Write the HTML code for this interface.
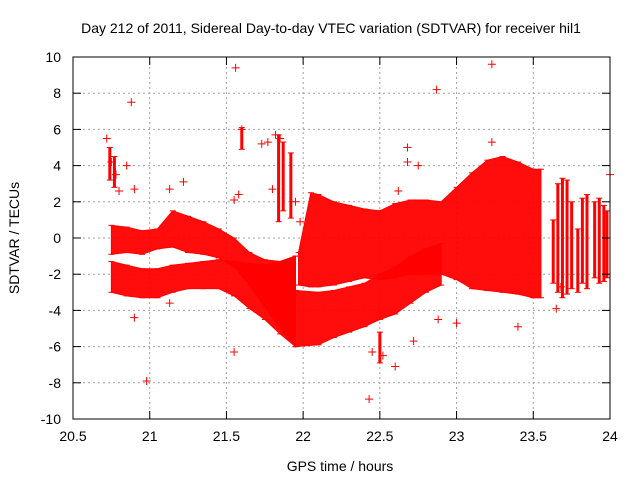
<!DOCTYPE html>
<html><head><meta charset="utf-8"><style>
body{margin:0;background:#fff;}
svg{display:block;font-family:"Liberation Sans",sans-serif;}
</style></head><body>
<svg id="chart" width="640" height="480" viewBox="0 0 640 480" xmlns="http://www.w3.org/2000/svg">
<rect width="640" height="480" fill="#fff"/>
<g id="grid"></g>
<g id="data"></g>
<g id="axes"></g>
<text x="331" y="33" font-size="14" text-anchor="middle">Day 212 of 2011, Sidereal Day-to-day VTEC variation (SDTVAR) for receiver hil1</text>
<text x="340" y="471" font-size="14" text-anchor="middle">GPS time / hours</text>
<text transform="translate(19,238) rotate(-90)" font-size="14" text-anchor="middle">SDTVAR / TECUs</text>
</svg>
<script>
const xTicks=[20.5,21,21.5,22,22.5,23,23.5,24];
const xTickLabels=["20.5","21","21.5","22","22.5","23","23.5","24"];
const yTicks=[-10,-8,-6,-4,-2,0,2,4,6,8,10];
const yTickLabels=["-10","-8","-6","-4","-2","0","2","4","6","8","10"];
// band upper-left
const bandUx=[20.75,20.85,20.95,21.05,21.15,21.25,21.35,21.45,21.55,21.65,21.75,21.85,21.95];
const bandUtop=[0.7,0.6,0.4,0.5,1.5,1.2,0.9,0.5,0.0,-0.8,-1.2,-1.3,-1.0];
const bandUbot=[-0.9,-0.8,-0.9,-0.6,-0.5,-0.8,-0.9,-1.1,-1.6,-2.6,-3.8,-5.0,-6.0];
// band lower-left
const bandLx=[20.75,20.85,20.95,21.05,21.15,21.25,21.35,21.45,21.55,21.65,21.75,21.85,21.95];
const bandLtop=[-1.3,-1.5,-1.7,-1.7,-1.5,-1.4,-1.3,-1.2,-1.3,-1.4,-1.5,-1.3,-1.0];
const bandLbot=[-3.0,-3.2,-3.3,-3.3,-3.0,-2.8,-2.8,-2.8,-3.2,-3.9,-4.5,-5.3,-6.0];
// band right main
const bandRx=[21.97,22.05,22.1,22.2,22.3,22.4,22.5,22.6,22.7,22.8,22.9,23.0,23.1,23.2,23.3,23.4,23.5,23.55];
const bandRtop=[-0.8,2.5,2.4,2.0,1.8,1.6,1.5,1.9,2.1,2.1,2.0,2.8,3.6,4.3,4.5,4.2,3.8,3.8];
const bandRbot=[-2.6,-2.7,-2.7,-2.6,-2.4,-2.2,-2.3,-2.2,-2.0,-2.0,-2.0,-2.3,-2.8,-2.9,-3.0,-3.1,-3.3,-3.3];
// band right lower
const bandR2x=[21.95,22.1,22.2,22.3,22.4,22.5,22.6,22.7,22.8,22.9];
const bandR2top=[-2.9,-3.0,-2.9,-2.7,-2.5,-2.0,-1.6,-1.0,-0.6,-0.3];
const bandR2bot=[-6.0,-5.9,-5.5,-5.2,-4.9,-4.5,-4.2,-3.6,-3.0,-2.6];
// isolated error bars
const barX=[20.74,20.77,21.6,21.84,21.87,21.92,22.5,23.63,23.66,23.69,23.72,23.75,23.79,23.82,23.85,23.9,23.93,23.96,23.98];
const barTop=[5.0,4.5,6.1,5.7,5.3,4.7,-5.2,1.0,3.0,3.3,3.2,2.0,0.5,2.2,2.4,2.0,2.2,1.8,1.5];
const barBot=[3.2,2.8,4.9,0.9,1.5,1.1,-6.9,-2.5,-3.0,-3.3,-3.1,-2.8,-3.0,-2.5,-2.8,-2.2,-2.5,-2.4,-2.2];
// scattered points
const ptX=[20.72,20.75,20.78,20.85,20.88,20.8,20.9,20.9,20.98,21.13,21.22,21.13,21.56,21.55,21.58,21.55,21.6,21.73,21.77,21.8,21.82,21.85,21.95,21.98,22.45,22.43,22.52,22.62,22.6,22.68,22.68,22.72,22.75,22.87,22.88,23.0,23.23,23.23,23.4,23.65,23.68,24.0];
const ptY=[5.5,4.2,3.5,4.0,7.5,2.6,2.7,-4.4,-7.9,2.7,3.1,-3.6,9.4,2.1,2.4,-6.3,6.0,5.2,5.3,2.7,5.7,5.5,2.0,0.9,-6.3,-8.9,-6.5,2.6,-7.1,5.0,4.2,-5.7,4.0,8.2,-4.5,-4.7,9.6,5.3,-4.9,-3.9,-2.7,3.5];

const X0=73,X1=610,Y0=419,Y1=57;
const sx=v=>X0+(v-20.5)/(24-20.5)*(X1-X0);
const sy=v=>Y0-(v+10)/20*(Y0-Y1);
const NS="http://www.w3.org/2000/svg";
function mk(tag,parent,attrs){const e=document.createElementNS(NS,tag);for(const k in attrs)e.setAttribute(k,attrs[k]);parent.appendChild(e);return e;}
const grid=document.getElementById('grid'),axes=document.getElementById('axes'),data=document.getElementById('data');

xTicks.forEach((t,i)=>{
  const x=sx(t);
  if(i>0&&i<xTicks.length-1){const g=mk('line',grid,{x1:x,x2:x,y1:Y1,y2:Y0,stroke:'#a0a0a0','stroke-dasharray':'2,3'});
  
  }
  mk('line',axes,{x1:x,x2:x,y1:Y0,y2:Y0-8,stroke:'#000'});
  mk('line',axes,{x1:x,x2:x,y1:Y1,y2:Y1+8,stroke:'#000'});
  const l=mk('text',axes,{x:x,y:Y0+22,'font-size':14,'text-anchor':'middle'});
  l.textContent=xTickLabels[i];
  
  
});
yTicks.forEach((t,i)=>{
  const y=sy(t);
  if(i>0&&i<yTicks.length-1){const g=mk('line',grid,{x1:X0,x2:X1,y1:y,y2:y,stroke:'#a0a0a0','stroke-dasharray':'2,3'});
  
  }
  mk('line',axes,{x1:X0,x2:X0+8,y1:y,y2:y,stroke:'#000'});
  mk('line',axes,{x1:X1,x2:X1-8,y1:y,y2:y,stroke:'#000'});
  const l=mk('text',axes,{x:X0-12,y:y+5,'font-size':14,'text-anchor':'end'});
  l.textContent=yTickLabels[i];
  
  
});
const frame=mk('rect',axes,{x:X0,y:Y1,width:X1-X0,height:Y0-Y1,fill:'none',stroke:'#000'});



function band(xs,tops,bots,name){
  let p=xs.map((x,i)=>sx(x)+','+sy(tops[i])).join(' ')+' '+xs.slice().reverse().map((x,j)=>{const i=xs.length-1-j;return sx(x)+','+sy(bots[i]);}).join(' ');
  const b=mk('polygon',data,{points:p,fill:'#ff0000','fill-opacity':0.95,stroke:'#ff0000','stroke-width':1});
  
  
  xs.forEach((x,i)=>{
    mk('line',data,{x1:sx(x)-3,x2:sx(x)+3,y1:sy(tops[i]),y2:sy(tops[i]),stroke:'#f00'});
    mk('line',data,{x1:sx(x)-3,x2:sx(x)+3,y1:sy(bots[i]),y2:sy(bots[i]),stroke:'#f00'});
  });
}
band(bandUx,bandUtop,bandUbot,'band-upper-left');
band(bandLx,bandLtop,bandLbot,'band-lower-left');
band(bandRx,bandRtop,bandRbot,'band-right-main');
band(bandR2x,bandR2top,bandR2bot,'band-right-lower');

barX.forEach((x,i)=>{
  const b=mk('line',data,{x1:sx(x),x2:sx(x),y1:sy(barTop[i]),y2:sy(barBot[i]),stroke:'#f00','stroke-width':3});
  
  
  mk('line',data,{x1:sx(x)-3,x2:sx(x)+3,y1:sy(barTop[i]),y2:sy(barTop[i]),stroke:'#f00'});
  mk('line',data,{x1:sx(x)-3,x2:sx(x)+3,y1:sy(barBot[i]),y2:sy(barBot[i]),stroke:'#f00'});
});
ptX.forEach((x,i)=>{
  const g=mk('path',data,{d:`M${sx(x)-4},${sy(ptY[i])}h8M${sx(x)},${sy(ptY[i])-4}v8`,stroke:'#f00','stroke-width':1});
  
  
});
</script>
</body></html>
